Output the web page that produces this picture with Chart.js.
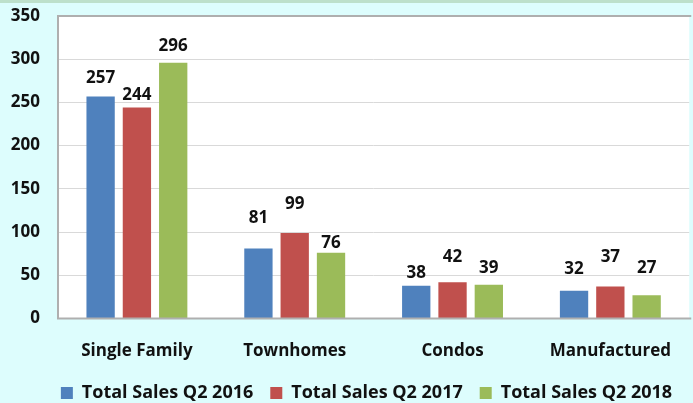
<!DOCTYPE html>
<html><head><meta charset="utf-8">
<script src="https://cdn.jsdelivr.net/npm/chart.js@4"></script>
<style>html,body{margin:0;padding:0;background:#DDFDFD}#wrap{width:693px;height:403px;position:relative}</style>
</head><body><div id="wrap"><canvas id="c" width="693" height="403" style="width:693px;height:403px"></canvas></div>
<script>
const categories = ['Single Family', 'Townhomes', 'Condos', 'Manufactured'];
const seriesNames = ['Total Sales Q2 2016', 'Total Sales Q2 2017', 'Total Sales Q2 2018'];
const sales2016 = [257, 81, 38, 32];
const sales2017 = [244, 99, 42, 37];
const sales2018 = [296, 76, 39, 27];
const yTicks = [0, 50, 100, 150, 200, 250, 300, 350];

// style: distance (px) from bar top to value label centre, per series
const labelLift = [[18, 30, 13, 22], [12, 29, 25, 29], [17, 10, 17, 27]];
const colors = ['#4F81BD', '#C0504D', '#9BBB59'];
const FONT = "'Open Sans'";

const bgPlugin = {
  id: 'bg',
  afterLayout(chart) {
    // shift legend block slightly right, as in the reference
    if (chart.legend) { chart.legend.left += 20; chart.legend.right += 20; }
  },
  beforeDraw(chart) {
    const { ctx, chartArea: a, width } = chart;
    ctx.save();
    ctx.fillStyle = '#DDFDFD';
    ctx.fillRect(0, 0, width, chart.height);
    ctx.fillStyle = '#BDE0CB';
    ctx.fillRect(0, 0, width, 3);
    ctx.fillStyle = '#FFFFFF';
    ctx.fillRect(a.left, a.top, a.right - a.left, a.bottom - a.top);
    ctx.restore();
  },
  afterDatasetsDraw(chart) {
    const { ctx, chartArea: a } = chart;
    ctx.save();
    ctx.strokeStyle = '#AFAFAF';
    ctx.lineWidth = 2;
    ctx.beginPath();
    ctx.moveTo(a.right + 2, a.top);
    ctx.lineTo(a.left, a.top);
    ctx.lineTo(a.left, a.bottom);
    ctx.lineTo(a.right + 2, a.bottom);
    ctx.stroke();
    // value labels
    ctx.fillStyle = '#111111';
    ctx.font = 'bold 17px ' + FONT;
    ctx.textAlign = 'center';
    ctx.textBaseline = 'middle';
    chart.data.datasets.forEach((ds, di) => {
      const meta = chart.getDatasetMeta(di);
      meta.data.forEach((el, i) => {
        ctx.fillText(String(ds.data[i]), el.x, el.y - labelLift[di][i]);
      });
    });
    ctx.restore();
  }
};

new Chart(document.getElementById('c'), {
  type: 'bar',
  data: {
    labels: categories,
    datasets: [
      { label: seriesNames[0], data: sales2016, backgroundColor: colors[0] },
      { label: seriesNames[1], data: sales2017, backgroundColor: colors[1] },
      { label: seriesNames[2], data: sales2018, backgroundColor: colors[2] }
    ]
  },
  options: {
    responsive: false,
    animation: false,
    devicePixelRatio: 1,
    layout: { padding: { top: 16, left: 0, right: 0, bottom: -9 } },
    datasets: { bar: { categoryPercentage: 0.69, barPercentage: 0.78 } },
    plugins: {
      legend: {
        position: 'bottom',
        labels: {
          boxWidth: 12, boxHeight: 12, padding: 17,
          color: '#111111',
          font: { family: FONT, size: 18, weight: 'bold' }
        }
      },
      tooltip: { enabled: false }
    },
    scales: {
      x: {
        grid: { display: false, drawTicks: false },
        border: { display: false },
        ticks: { color: '#111111', padding: 22, font: { family: FONT, size: 17, weight: 'bold' } },
        afterFit(s) { s.height = 48.5; }
      },
      y: {
        min: 0, max: 350,
        grid: { color: '#D9D9D9', drawTicks: false, lineWidth: 1 },
        border: { display: false },
        afterBuildTicks(s) { s.ticks = yTicks.map(v => ({ value: v })); },
        ticks: { color: '#111111', padding: 18, font: { family: FONT, size: 17, weight: 'bold' } },
        afterFit(s) { s.width = 58; s.paddingTop = 0; s.paddingBottom = 0; }
      }
    }
  },
  plugins: [bgPlugin]
});
</script>
</body></html>
